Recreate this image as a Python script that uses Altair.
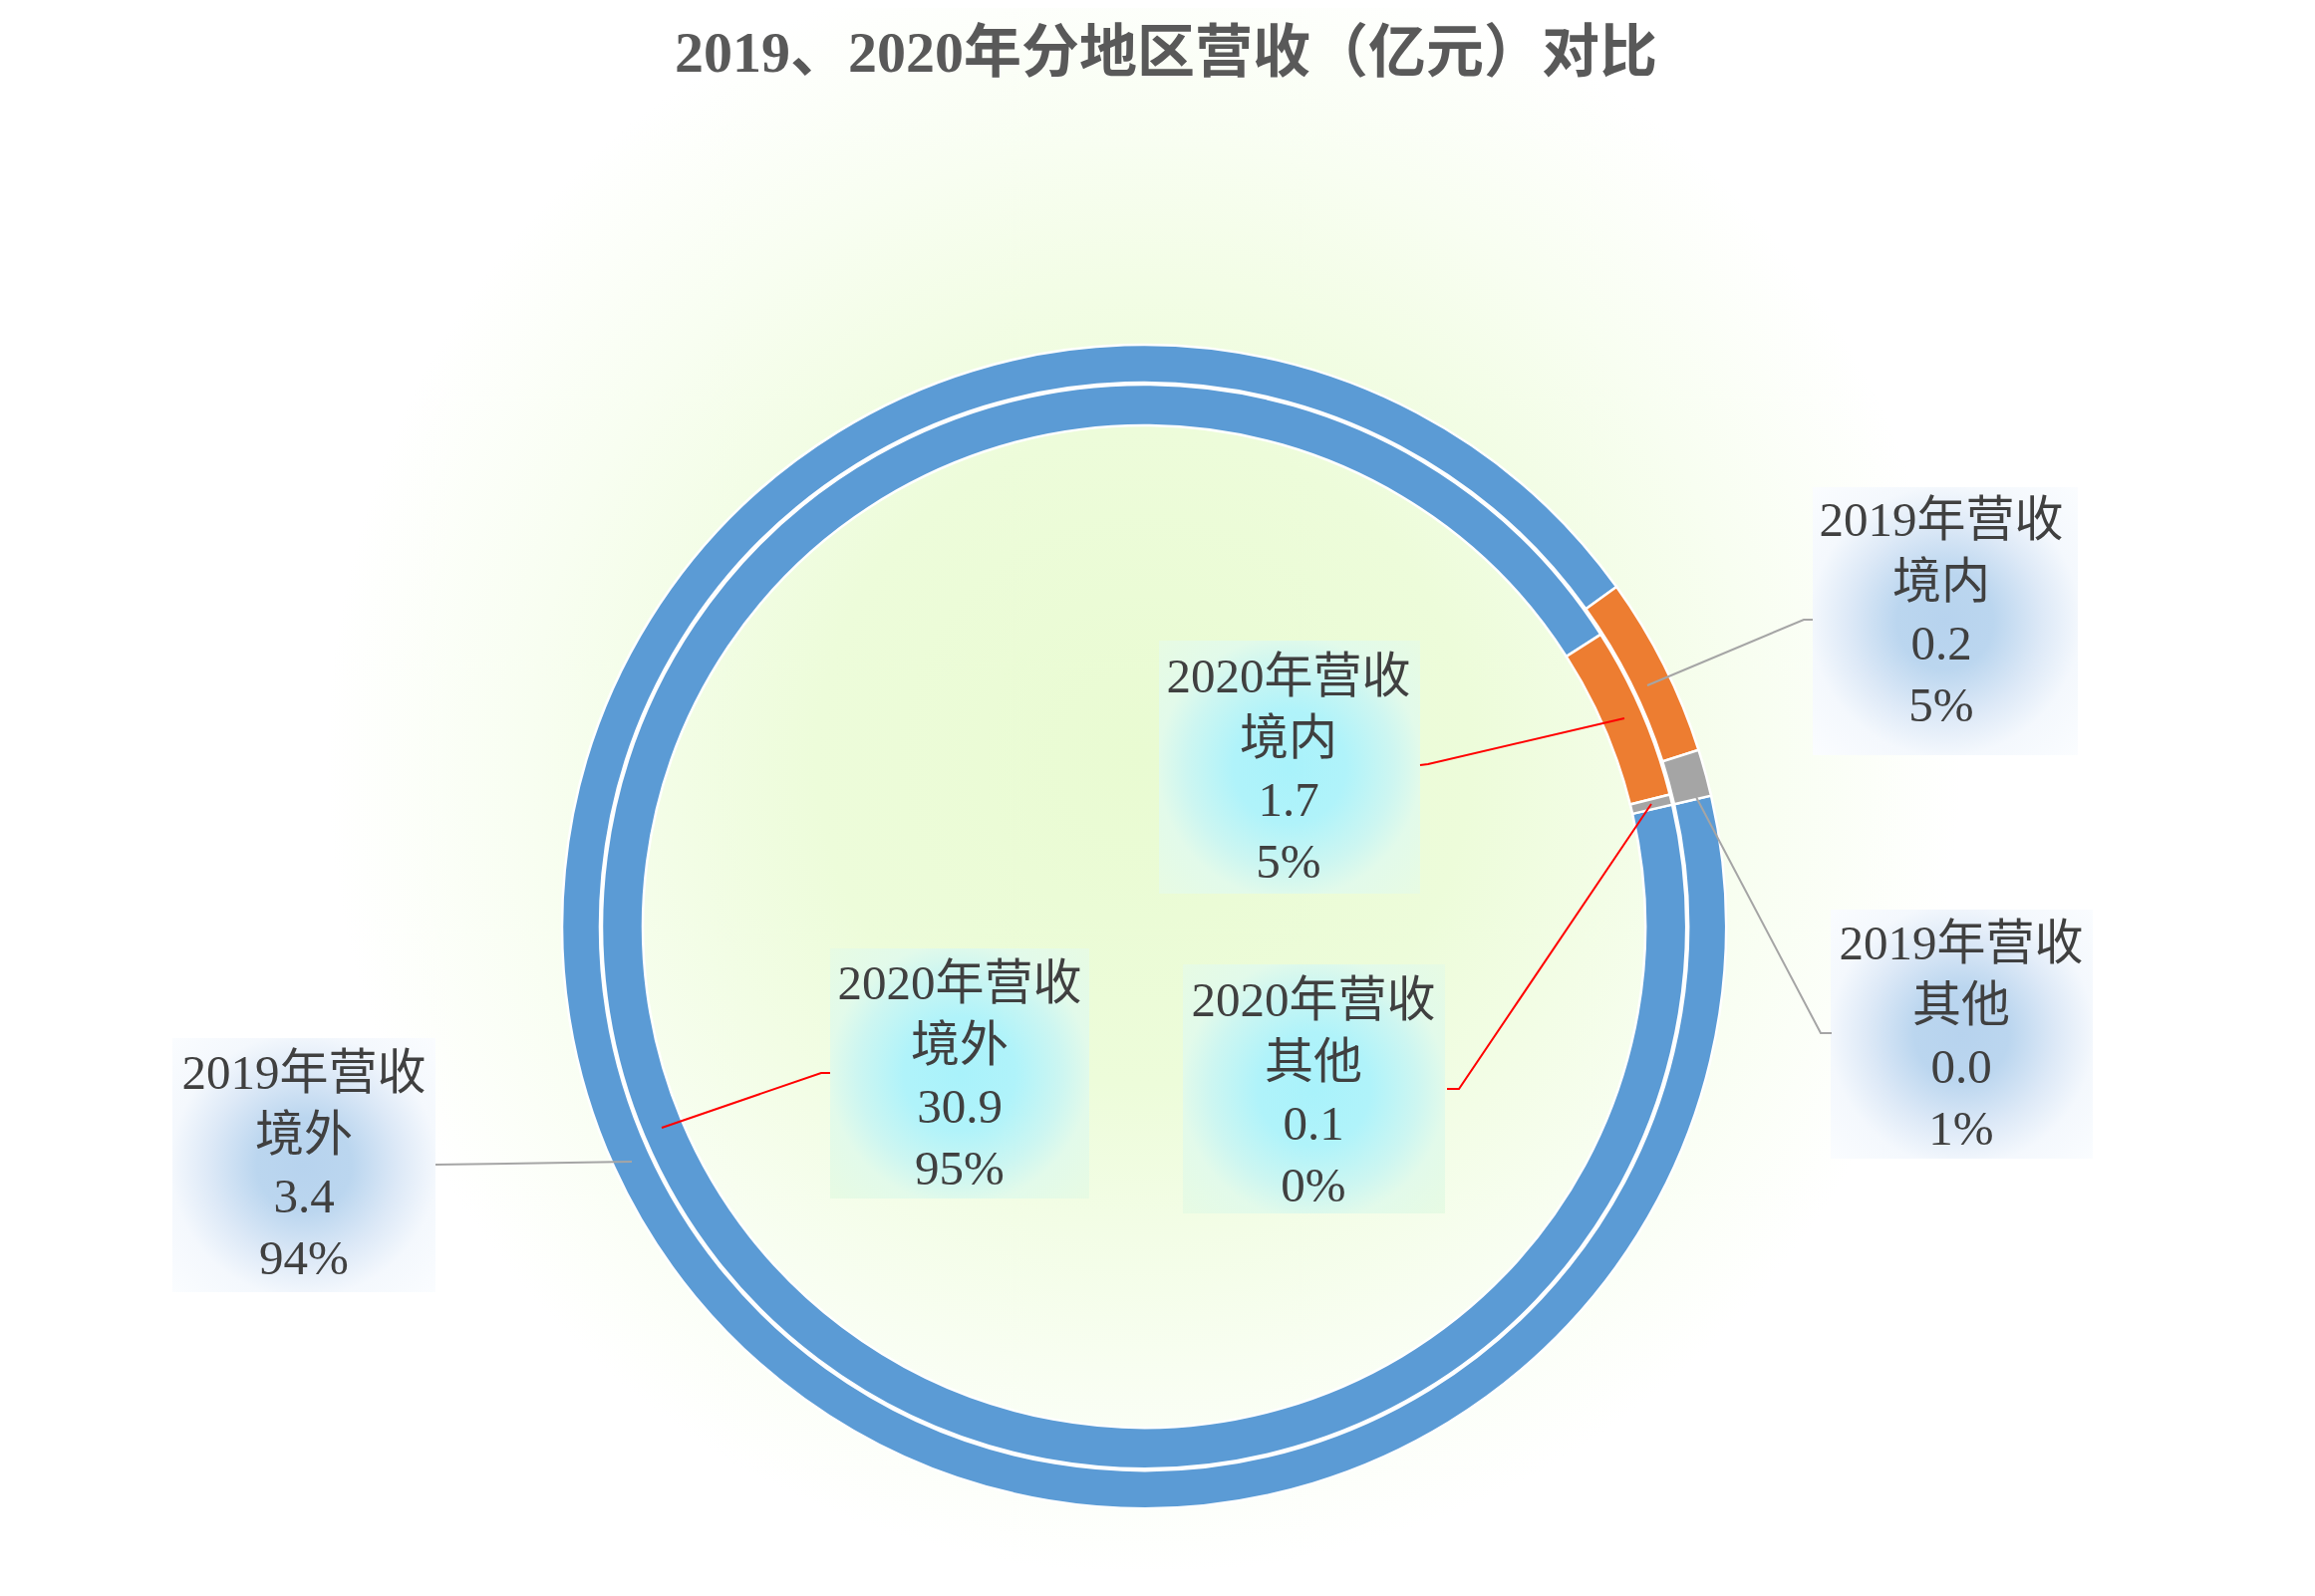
import math
import altair as alt
import pandas as pd

# ---------------- data ----------------
years = ["2019", "2020"]
regions = ["境外", "境内", "其他"]
rev_2019 = [3.40, 0.182, 0.047]
rev_2020 = [30.90, 1.68, 0.10]
title_text = "2019、2020年分地区营收（亿元）对比"

# ---------------- layout (page pixels) ----------------
W, H = 2307, 1586
CX, CY = 1148, 930
START = math.radians(77)
RING = {"2019": (584, 546), "2020": (544, 503)}
SLICE_COLORS = ["#5b9bd5", "#ed7d31", "#a5a5a5"]
# centre x of each label, and y of its first line
LABEL_X = {"2019": [305, 1948, 1968], "2020": [963, 1293, 1318]}
LABEL_Y = {"2019": [1078, 523, 948], "2020": [988, 680, 1005]}
BOX = {
    "2019": [(173, 437, 1042, 1297), (1819, 2085, 489, 758), (1837, 2100, 913, 1163)],
    "2020": [(833, 1093, 952, 1203), (1163, 1425, 643, 897), (1187, 1450, 968, 1218)],
}
LEADERS = {
    "2019": [
        [(437, 1169), (634, 1166)],
        [(1819, 622), (1810, 622), (1653, 688)],
        [(1838, 1037), (1827, 1037), (1702, 800)],
    ],
    "2020": [
        [(833, 1077), (824, 1077), (664, 1132)],
        [(1425, 768), (1433, 767), (1630, 721)],
        [(1452, 1093), (1464, 1093), (1657, 807)],
    ],
}
BG = (1148, 760, 820)
TITLE_POS = (1170, 55)
FONT = "Liberation Serif, Noto Sans CJK SC"

# ---------------- tables ----------------
rows = []
for yr, vals in zip(years, [rev_2019, rev_2020]):
    tot = sum(vals)
    cum = 0.0
    for i, (reg, v) in enumerate(zip(regions, vals)):
        f = v / tot
        x0, x1, y0, y1 = BOX[yr][i]
        rows.append(dict(
            year=yr, region=reg, idx=i, value=v, start=cum, end=cum + f,
            label=f"{yr}年营收\n{reg}\n{v:.1f}\n{round(f * 100):.0f}%",
            lx=LABEL_X[yr][i], ly=LABEL_Y[yr][i],
            bx0=x0, bx1=x1, by0=y0, by1=y1, cx=CX, cy=CY,
        ))
        cum += f
df = pd.DataFrame(rows)

lrows = []
for yr in years:
    for i, pts in enumerate(LEADERS[yr]):
        for s, (x, y) in enumerate(pts):
            lrows.append(dict(year=yr, id=f"{yr}-{i}", seq=s, x=x, y=y))
ldf = pd.DataFrame(lrows)

bgdf = pd.DataFrame([dict(x=BG[0], y=BG[1])])
tdf = pd.DataFrame([dict(x=TITLE_POS[0], y=TITLE_POS[1], t=title_text)])

xs = alt.Scale(domain=[8, 8 + W], range=[0, W], nice=False, zero=False)
ys = alt.Scale(domain=[8, 8 + H], range=[0, H], nice=False, zero=False)
ts = alt.Scale(domain=[0, 1], range=[START, START + 2 * math.pi], nice=False, zero=False)


def grad(stops, r2=0.5):
    return {"gradient": "radial", "x1": 0.5, "y1": 0.5, "r1": 0,
            "x2": 0.5, "y2": 0.5, "r2": r2,
            "stops": [{"offset": o, "color": c} for o, c in stops]}


bg = alt.Chart(bgdf).mark_arc(
    theta=0, theta2=2 * math.pi, radius=BG[2],
    fill=grad([(0, "#e9fbd2"), (0.4, "#edfcda"), (0.75, "#f8fef1"), (1, "#ffffff")]),
).encode(
    x=alt.X("x:Q", scale=xs, axis=None),
    y=alt.Y("y:Q", scale=ys, axis=None),
)


def ring(yr):
    ro, ri = RING[yr]
    return alt.Chart(df).transform_filter(alt.datum.year == yr).mark_arc(
        radius=ro, radius2=ri, stroke="white", strokeWidth=2.5
    ).encode(
        theta=alt.Theta("start:Q", scale=ts, stack=False),
        theta2="end:Q",
        x=alt.X("cx:Q", scale=xs, axis=None, stack=False),
        y=alt.Y("cy:Q", scale=ys, axis=None, stack=False),
        color=alt.Color("region:N", scale=alt.Scale(domain=regions, range=SLICE_COLORS), legend=None),
    )


glow_stops = {
    "2019": [(0, "#b7d3ee"), (0.25, "#bbd6ef"), (0.5, "#dde9f7"), (0.7, "#f4f8fd"), (1, "#fbfdff")],
    "2020": [(0, "#a9f2fb"), (0.3, "#b0f3fa"), (0.55, "#cdf6f1"), (0.7, "#e2faea"), (1, "#e8fbe2")],
}


def glow(yr):
    return alt.Chart(df).transform_filter(alt.datum.year == yr).mark_rect(
        fill=grad(glow_stops[yr], r2=0.72)
    ).encode(
        x=alt.X("bx0:Q", scale=xs, axis=None),
        x2="bx1:Q",
        y=alt.Y("by0:Q", scale=ys, axis=None),
        y2="by1:Q",
    )


def leaders(yr, col):
    return alt.Chart(ldf).transform_filter(alt.datum.year == yr).mark_line(
        color=col, strokeWidth=2
    ).encode(
        x=alt.X("x:Q", scale=xs, axis=None),
        y=alt.Y("y:Q", scale=ys, axis=None),
        detail="id:N",
        order="seq:Q",
    )


def labels(yr):
    return alt.Chart(df).transform_filter(alt.datum.year == yr).mark_text(
        lineBreak="\n", lineHeight=62, fontSize=49, font=FONT, color="#404040",
        align="center", baseline="middle",
    ).encode(
        x=alt.X("lx:Q", scale=xs, axis=None),
        y=alt.Y("ly:Q", scale=ys, axis=None),
        text="label:N",
    )


title = alt.Chart(tdf).mark_text(
    fontSize=58, fontWeight="bold", font=FONT, color="#595959",
    align="center", baseline="middle",
).encode(
    x=alt.X("x:Q", scale=xs, axis=None),
    y=alt.Y("y:Q", scale=ys, axis=None),
    text="t:N",
)

chart = alt.layer(
    bg, ring("2019"), ring("2020"),
    glow("2019"), glow("2020"),
    leaders("2019", "#a5a5a5"), leaders("2020", "#ff0000"),
    labels("2019"), labels("2020"), title,
).properties(
    width=W, height=H, padding=0, background="white",
    autosize=alt.AutoSizeParams(type="none"),
).configure_view(stroke=None)

chart.save("out.html", embed_options={"renderer": "svg", "actions": False})
